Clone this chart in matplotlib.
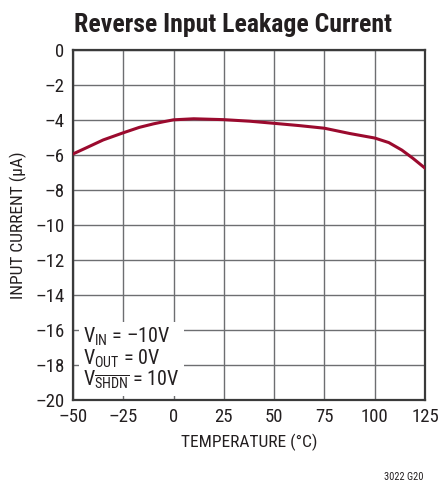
import numpy as np
import matplotlib
matplotlib.use('Agg')
import matplotlib.pyplot as plt

# 曲线数据
temp = [-50, -43.4, -35, -25, -17, -10, -5, 0, 10, 25, 38, 50, 62.5, 75, 87.5, 100, 107, 113.5, 119, 125]
current = [-5.94, -5.59, -5.14, -4.73, -4.42, -4.22, -4.1, -3.99, -3.93, -3.98, -4.07, -4.19,
           -4.32, -4.47, -4.77, -5.03, -5.29, -5.72, -6.19, -6.75]

x_ticks = [-50, -25, 0, 25, 50, 75, 100, 125]
y_ticks = list(range(-20, 1, 2))

plt.rcParams['font.family'] = ['Roboto Condensed', 'DejaVu Sans']
plt.rcParams['mathtext.fontset'] = 'custom'
plt.rcParams['mathtext.rm'] = 'Roboto Condensed'
plt.rcParams['mathtext.it'] = 'Roboto Condensed'

fig = plt.figure(figsize=(4.38, 4.87), dpi=100)
ax = fig.add_axes([73 / 438, 1 - 400 / 487, 352 / 438, 350 / 487])

ax.plot(temp, current, color='#9b0a2e', lw=2.2, solid_joinstyle='round', zorder=3)

ax.set_xlim(-50, 125)
ax.set_ylim(-20, 0)
ax.set_xticks(x_ticks)
ax.set_yticks(y_ticks)
ax.set_xticklabels([str(t).replace('-', '\u2013') for t in x_ticks])
ax.set_yticklabels([str(t).replace('-', '\u2013') for t in y_ticks])
ax.tick_params(length=0, labelsize=13.5, colors='#231f20', pad=6)
ax.grid(True, color='#6d6e71', lw=1.0)
for s in ax.spines.values():
    s.set_color('#3a3a3a')
    s.set_linewidth(1.6)

ax.set_xlabel('TEMPERATURE (°C)', fontsize=12.5, color='#231f20', labelpad=5)
ax.set_ylabel('INPUT CURRENT (µA)', fontsize=12.5, color='#231f20', labelpad=6)

# 条件说明
ax.text(-45, -19.55,
        '$\\mathregular{V_{IN}}$ = \u201310V\n$\\mathregular{V_{OUT}}$ = 0V\n$\\mathregular{V_{\\overline{SHDN}}}$ = 10V',
        fontsize=14.5, color='#231f20', va='bottom', ha='left', linespacing=0.95,
        bbox=dict(facecolor='white', edgecolor='none', pad=3), zorder=4)

fig.text(233 / 438, 1 - 32 / 487, 'Reverse Input Leakage Current', fontsize=18.5,
         fontweight='bold', ha='center', va='baseline', color='#231f20')
fig.text(423 / 438, 1 - 480 / 487, '3022 G20', fontsize=7.5, ha='right', va='baseline',
         color='#231f20')

fig.savefig('out.png', dpi=100)
